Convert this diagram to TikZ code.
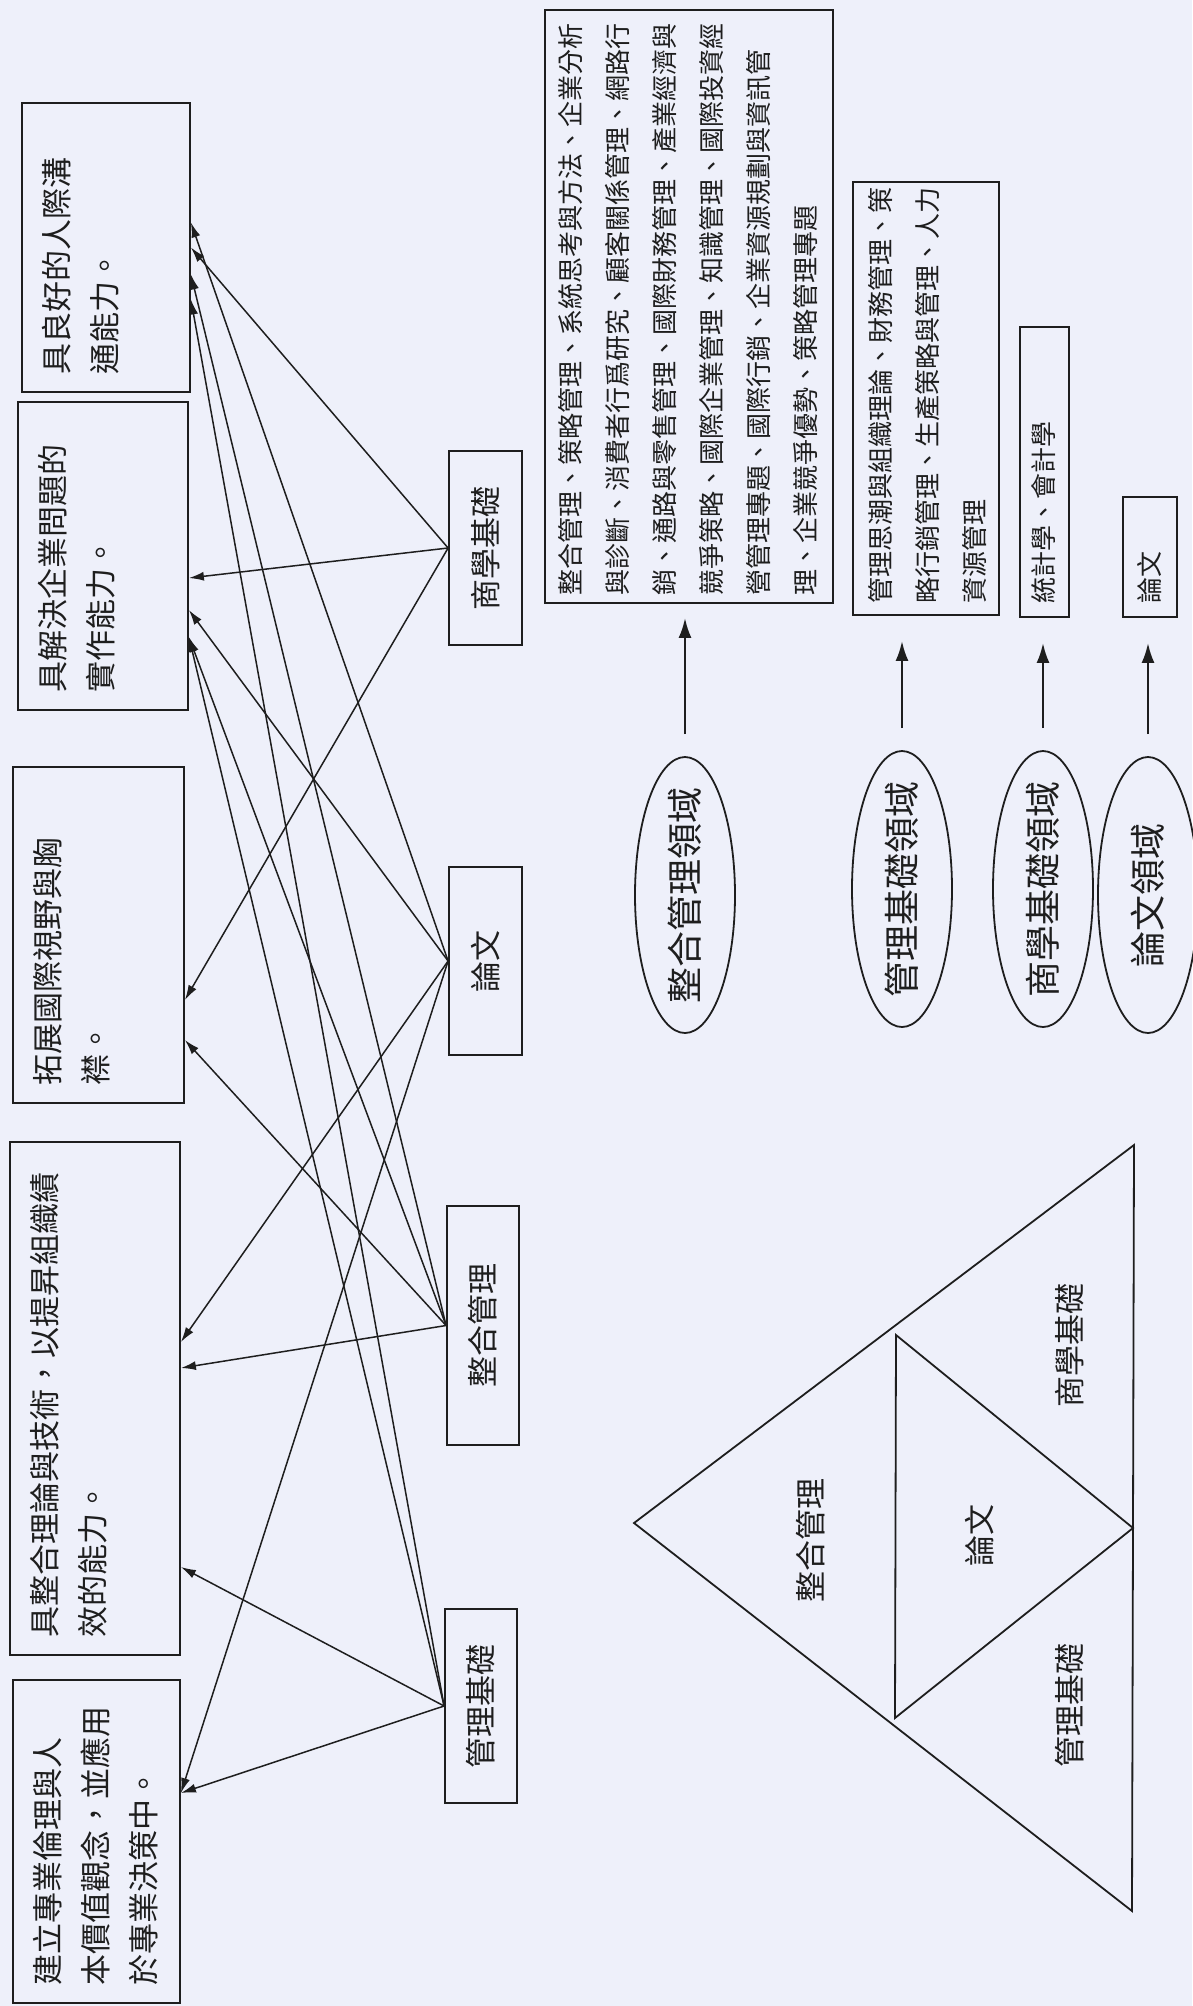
\documentclass[tikz,border=0pt]{standalone}
\usepackage{fontspec}
\newfontfamily\cjk{Noto Sans CJK TC}
\usetikzlibrary{arrows.meta,shapes.geometric,calc}
\definecolor{paper}{RGB}{238,240,250}
\definecolor{ink}{RGB}{30,30,30}
\newcommand\rtext[3]{\rotatebox{90}{\parbox[c][#1][t]{#2}{\raggedright #3}}}
\begin{document}
\begin{tikzpicture}[x=1pt,y=-1pt,
  every node/.style={font=\cjk, text=ink},
  obox/.style={draw=ink, line width=1.8pt, inner sep=0pt, font=\cjk\fontsize{31}{48}\selectfont},
  rbox/.style={draw=ink, line width=1.8pt, inner sep=0pt, font=\cjk\fontsize{26}{47}\selectfont},
  sbox/.style={draw=ink, line width=1.8pt, inner sep=0pt, font=\cjk\fontsize{31}{40}\selectfont},
  dom/.style={draw=ink, line width=1.8pt, ellipse, inner sep=0pt, minimum width=100pt, minimum height=276pt},
  domtext/.style={rotate=90, font=\cjk\fontsize{36}{40}\selectfont},
  link/.style={draw=ink, line width=1.5pt, -{Latex[length=15pt,width=9pt]}},
  upar/.style={draw=ink, line width=2.5pt, -{Latex[length=20pt,width=13pt]}},
  tri/.style={draw=ink, line width=1.8pt},
  trilbl/.style={rotate=90, font=\cjk\fontsize{31}{40}\selectfont}
]
\path[use as bounding box, fill=paper] (0,0) rectangle (1192,2006);

% outcome boxes (left column)
\node[obox, minimum width=167pt, minimum height=323pt] (o1) at (96.5,1841.5)
  {\rtext{127pt}{287pt}{建立專業倫理與人\\本價值觀念，並應用\\於專業決策中。}};
\node[obox, minimum width=170pt, minimum height=513pt] (o2) at (95,1398.5)
  {\rtext{130pt}{477pt}{具整合理論與技術，以提昇組織績\\效的能力。}};
\node[obox, minimum width=171pt, minimum height=336pt] (o3) at (98.5,935)
  {\rtext{131pt}{300pt}{拓展國際視野與胸\\襟。}};
\node[obox, minimum width=170pt, minimum height=308pt] (o4) at (103,556)
  {\rtext{130pt}{272pt}{具解決企業問題的\\實作能力。}};
\node[obox, minimum width=168pt, minimum height=289pt] (o5) at (106,247.5)
  {\rtext{128pt}{253pt}{具良好的人際溝\\通能力。}};

% source boxes
\node[sbox, minimum width=72pt, minimum height=194pt] (s1) at (481,1706) {\rotatebox{90}{管理基礎}};
\node[sbox, minimum width=72pt, minimum height=239pt] (s2) at (483,1325.5) {\rotatebox{90}{整合管理}};
\node[sbox, minimum width=73pt, minimum height=188pt] (s3) at (485.5,961) {\rotatebox{90}{論文}};
\node[sbox, minimum width=73pt, minimum height=194pt] (s4) at (485.5,548) {\rotatebox{90}{商學基礎}};

% connectors to outcome 5
\draw[link] (s3.west) -- ([yshift=25pt]o5.east);
\draw[link] (s4.west) -- (o5.east);
\draw[link] (s2.west) -- ([yshift=-27pt]o5.east);
\draw[link] (s1.west) -- ([yshift=-52pt]o5.east);
% outcome 4
\draw[link] (s4.west) -- ([yshift=-22pt]o4.east);
\draw[link] (s3.west) -- ([yshift=-54pt]o4.east);
\draw[link] (s2.west) -- ([yshift=-81pt]o4.east);
\draw[link] (s1.west) -- ([yshift=-81pt]o4.east);
% outcome 3
\draw[link] (s4.west) -- ([yshift=-65pt]o3.east);
\draw[link] (s2.west) -- ([yshift=-105pt]o3.east);
% outcome 2
\draw[link] (s3.west) -- ([yshift=56.5pt]o2.east);
\draw[link] (s2.west) -- ([yshift=30.5pt]o2.east);
\draw[link] (s1.west) -- ([yshift=-168.5pt]o2.east);
% outcome 1
\draw[link] (s3.west) -- ([yshift=48.5pt]o1.east);
\draw[link] (s1.west) -- ([yshift=48.5pt]o1.east);

% course boxes (top right)
\node[rbox, minimum width=288pt, minimum height=593pt] (r1) at (689,306.5)
  {\rtext{262pt}{578pt}{整合管理、策略管理、系統思考與方法、企業分析\\與診斷、消費者行爲研究、顧客關係管理、網路行\\銷、通路與零售管理、國際財務管理、產業經濟與\\競爭策略、國際企業管理、知識管理、國際投資經\\營管理專題、國際行銷、企業資源規劃與資訊管\\理、企業競爭優勢、策略管理專題}};
\node[rbox, minimum width=146pt, minimum height=433pt] (r2) at (926,398.5)
  {\rtext{116pt}{409pt}{管理思潮與組織理論、財務管理、策\\略行銷管理、生產策略與管理、人力\\資源管理}};
\node[rbox, minimum width=49pt, minimum height=290pt] (r3) at (1044.5,472)
  {\rtext{26pt}{262pt}{統計學、會計學}};
\node[rbox, minimum width=54pt, minimum height=120pt] (r4) at (1150,557)
  {\rtext{26pt}{92pt}{論文}};

% domain ellipses
\node[dom] (e1) at (685,895) {};
\node[dom] (e2) at (902,889) {};
\node[dom] (e3) at (1043,889) {};
\node[dom] (e4) at (1148,895) {};
\node[domtext] (e1t) at (e1.center) {整合管理領域};
\node[domtext] (e2t) at (e2.center) {管理基礎領域};
\node[domtext] (e3t) at (e3.center) {商學基礎領域};
\node[domtext] (e4t) at (e4.center) {論文領域};

\draw[upar] ($(e1.north)+(0,-22)$) -- ($(e1.north |- r1.south)+(0,14)$);
\draw[upar] ($(e2.north)+(0,-22)$) -- ($(e2.north |- r2.south)+(0,25)$);
\draw[upar] ($(e3.north)+(0,-22)$) -- ($(e3.north |- r3.south)+(0,25)$);
\draw[upar] ($(e4.north)+(0,-22)$) -- ($(e4.north |- r4.south)+(0,25)$);

% pyramid
\coordinate (A) at (634,1523);
\coordinate (B) at (1134,1145);
\coordinate (C) at (1132,1911);
\coordinate (P) at (896,1335);
\coordinate (Q) at (895,1718);
\coordinate (R) at (1133,1528);
\draw[tri] (A) -- (B) -- (C) -- cycle;
\draw[tri] (P) -- (Q) -- (R) -- cycle;
\node[trilbl] (t1) at (811,1540) {整合管理};
\node[trilbl] (t2) at (980,1535) {論文};
\node[trilbl] (t3) at (1070,1345) {商學基礎};
\node[trilbl] (t4) at (1070,1705) {管理基礎};
\end{tikzpicture}
\end{document}
